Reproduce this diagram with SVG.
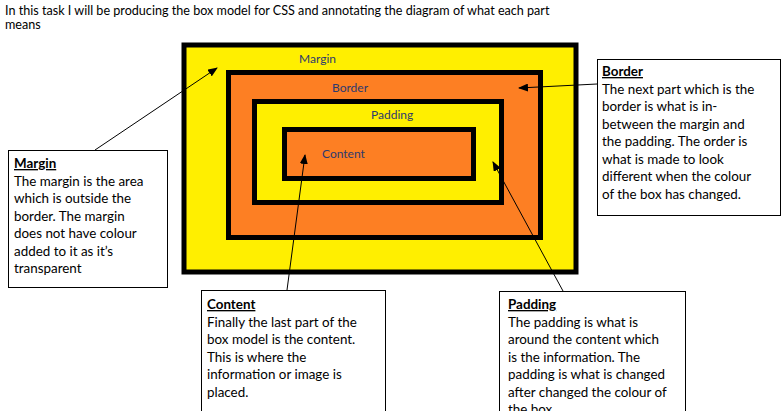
<svg xmlns="http://www.w3.org/2000/svg" width="783" height="411" viewBox="0 0 783 411">
<style>
text{font-family:Lato,"Open Sans",sans-serif;font-size:13.4px;fill:#000}
.t{font-size:12.6px}
.lbl{fill:#2e3a6e;font-size:12px}
.box{fill:#fff;stroke:#000;stroke-width:1}
.h{font-weight:bold;text-decoration:underline}
</style>
<defs><marker id="a" markerWidth="10" markerHeight="8" refX="9" refY="4" orient="auto" markerUnits="userSpaceOnUse"><path d="M0,0L10,4L0,8z" fill="#000"/></marker></defs>
<rect width="783" height="411" fill="#fff"/>
<text class="t" x="5" y="15">In this task I will be producing the box model for CSS and annotating the diagram of what each part</text>
<text class="t" x="5" y="29">means</text>
<g id="margin-area"><rect x="184" y="45" width="392" height="227" fill="#ffef00" stroke="#000" stroke-width="5"/><text class="lbl" x="299" y="63">Margin</text></g>
<g id="border-area"><rect x="228.5" y="72.5" width="312" height="165" fill="#fd7f23" stroke="#000" stroke-width="5"/><text class="lbl" x="332" y="92">Border</text></g>
<g id="padding-area"><rect x="254.5" y="101.5" width="247" height="101" fill="#ffef00" stroke="#000" stroke-width="5"/><text class="lbl" x="371" y="119">Padding</text></g>
<g id="content-area"><rect x="284.5" y="129.5" width="189" height="49" fill="#fd7f23" stroke="#000" stroke-width="5"/><text class="lbl" x="322" y="158">Content</text></g>
<g id="connectors" stroke="#000" stroke-width="1" fill="none">
<line x1="95" y1="150" x2="217" y2="68" marker-end="url(#a)"/>
<line x1="597" y1="84" x2="519" y2="88" marker-end="url(#a)"/>
<line x1="287" y1="290" x2="305" y2="155" marker-end="url(#a)"/>
<line x1="563" y1="291" x2="493" y2="162" marker-end="url(#a)"/>
</g>
<g id="margin-note"><rect class="box" x="8.5" y="150.5" width="159" height="137"/>
<text class="h" x="14" y="168">Margin</text>
<text x="14" y="186">The margin is the area</text><text x="14" y="203">which is outside the</text><text x="14" y="221">border. The margin</text><text x="14" y="238">does not have colour</text><text x="14" y="256">added to it as it’s</text><text x="14" y="273">transparent</text></g>
<g id="border-note"><rect class="box" x="597.5" y="59.5" width="183" height="156"/>
<text class="h" x="602" y="76">Border</text>
<text x="602" y="94">The next part which is the</text><text x="602" y="111">border is what is in-</text><text x="602" y="129">between the margin and</text><text x="602" y="146">the padding. The order is</text><text x="602" y="164">what is made to look</text><text x="602" y="181">different when the colour</text><text x="602" y="199">of the box has changed.</text></g>
<g id="content-note"><rect class="box" x="201.5" y="290.5" width="184" height="122"/>
<text class="h" x="207" y="309">Content</text>
<text x="207" y="327">Finally the last part of the</text><text x="207" y="344">box model is the content.</text><text x="207" y="362">This is where the</text><text x="207" y="379">information or image is</text><text x="207" y="397">placed.</text></g>
<g id="padding-note"><rect class="box" x="499.5" y="291.5" width="186" height="122"/>
<text class="h" x="508" y="309">Padding</text>
<text x="508" y="327">The padding is what is</text><text x="508" y="344">around the content which</text><text x="508" y="362">is the information. The</text><text x="508" y="379">padding is what is changed</text><text x="508" y="397">after changed the colour of</text><text x="508" y="414">the box.</text></g>
</svg>
